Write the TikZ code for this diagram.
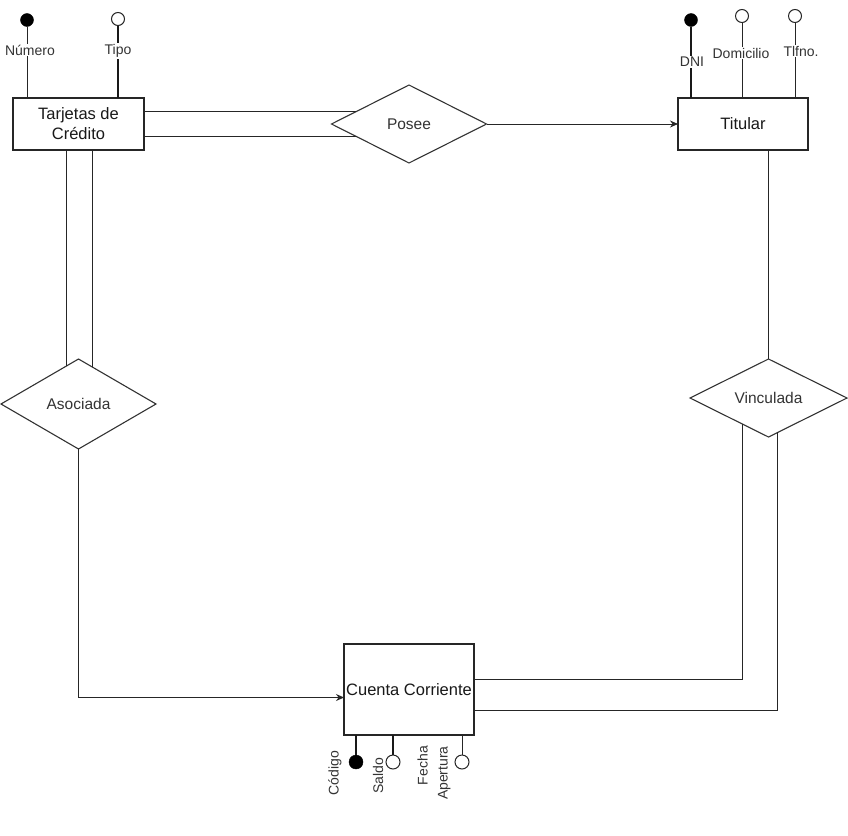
\documentclass[tikz,border=0pt]{standalone}
\usepackage{fontspec}
\setmainfont{Liberation Sans}
\usetikzlibrary{shapes.geometric,calc,arrows.meta}
\begin{document}
\begin{tikzpicture}[x=1pt,y=-1pt,
  ln/.style={line width=1pt, draw=black!85},
  tk/.style={line width=2pt, draw=black!90},
  entity/.style={draw=black!85, line width=1.2pt, fill=white, inner sep=0pt, outer sep=0pt, align=center, font=\fontsize{16.5}{20}\selectfont, text=black!90},
  rel/.style={diamond, draw=black!80, line width=1.1pt, fill=white, inner sep=0pt, outer sep=0pt, aspect=2, font=\fontsize{15.5}{18}\selectfont, text=black!80},
  keyattr/.style={circle, draw=black, fill=black, minimum size=13pt, inner sep=0pt, outer sep=0pt},
  attr/.style={circle, draw=black!85, fill=white, line width=1pt, minimum size=13pt, inner sep=0pt, outer sep=0pt},
  albl/.style={fill=white, inner sep=1pt, font=\fontsize{14}{17}\selectfont, text=black!80},
  arr/.style={ln, -{Stealth[length=8pt,width=7pt]}}
]
\useasboundingbox (0,0) rectangle (848,835);

% entities
\node[entity, minimum width=131pt, minimum height=52pt] (tarj) at (78.5,124) {Tarjetas de\\Crédito};
\node[entity, minimum width=130pt, minimum height=52pt] (titular) at (743,124) {Titular};
\node[entity, minimum width=130pt, minimum height=91pt] (cuenta) at (409,689.5) {Cuenta Corriente};

% relationships
\node[rel, minimum width=155pt, minimum height=78pt] (posee) at (409,124) {Posee};
\node[rel, minimum width=155pt, minimum height=90pt] (asoc) at (78.5,404) {Asociada};
\node[rel, minimum width=157pt, minimum height=78pt] (vinc) at (768.5,398) {Vinculada};

% Tarjetas -- Posee (double line)
\path ($(posee.west)!0.31!(posee.north)$) coordinate (p1)
      ($(posee.west)!0.33!(posee.south)$) coordinate (p2);
\draw[ln] (tarj.east |- p1) -- (p1);
\draw[ln] (tarj.east |- p2) -- (p2);
% Posee -> Titular
\draw[arr] (posee.east) -- (titular.west);

% Tarjetas -- Asociada (double line)
\path ($(asoc.north)!0.16!(asoc.west)$) coordinate (a1)
      ($(asoc.north)!0.187!(asoc.east)$) coordinate (a2);
\draw[ln] (a1 |- tarj.south) -- (a1);
\draw[ln] (a2 |- tarj.south) -- (a2);
% Asociada -> Cuenta
\coordinate (cw) at ($(cuenta.west)+(0,8)$);
\draw[arr] (asoc.south) |- (cw);

% Titular -- Vinculada
\draw[ln] (vinc.north |- titular.south) -- (vinc.north);
% Vinculada -- Cuenta (double line)
\path ($(vinc.south)!0.33!(vinc.west)$) coordinate (v1)
      ($(vinc.south)!0.12!(vinc.east)$) coordinate (v2);
\coordinate (ce1) at ($(cuenta.east)+(0,-10)$);
\coordinate (ce2) at ($(cuenta.east)+(0,21)$);
\draw[ln] (v1) |- (ce1);
\draw[ln] (v2) |- (ce2);

% attributes of Tarjetas
\node[keyattr] (numc) at (27,20) {};
\draw[ln] (numc.south) -- (numc.south |- tarj.north);
\node[albl] (numl) at (30,50) {Número};
\node[attr] (tipoc) at (118,19) {};
\draw[tk] (tipoc.south) -- (tipoc.south |- tarj.north);
\node[albl] (tipol) at (118,51) {Tipo};

% attributes of Titular
\node[keyattr] (dnic) at (691,20) {};
\draw[tk] (dnic.south) -- (dnic.south |- titular.north);
\node[albl] (dnil) at (692,62) {DNI};
\node[attr] (domc) at (742,16) {};
\draw[ln] (domc.south) -- (domc.south |- titular.north);
\node[albl] (doml) at (741,53) {Domicilio};
\node[attr] (telc) at (795,16) {};
\draw[ln] (telc.south) -- (telc.south |- titular.north);
\node[albl] (tell) at (801,51) {Tlfno.};

% attributes of Cuenta Corriente
\node[keyattr, minimum size=14pt] (codc) at (356,762) {};
\draw[tk] (codc.north |- cuenta.south) -- (codc.north);
\node[albl, fill=none, rotate=90] (codl) at (335,773) {Código};
\node[attr, minimum size=14pt] (salc) at (393,762) {};
\draw[tk] (salc.north |- cuenta.south) -- (salc.north);
\node[albl, fill=none, rotate=90] (sall) at (378,776) {Saldo};
\node[attr, minimum size=14pt] (fecc) at (462,762) {};
\draw[ln] (fecc.north |- cuenta.south) -- (fecc.north);
\node[albl, fill=none, rotate=90, align=right, anchor=east, font=\fontsize{14}{20}\selectfont] (fecl) at (434,745) {Fecha\\Apertura};
\end{tikzpicture}
\end{document}
